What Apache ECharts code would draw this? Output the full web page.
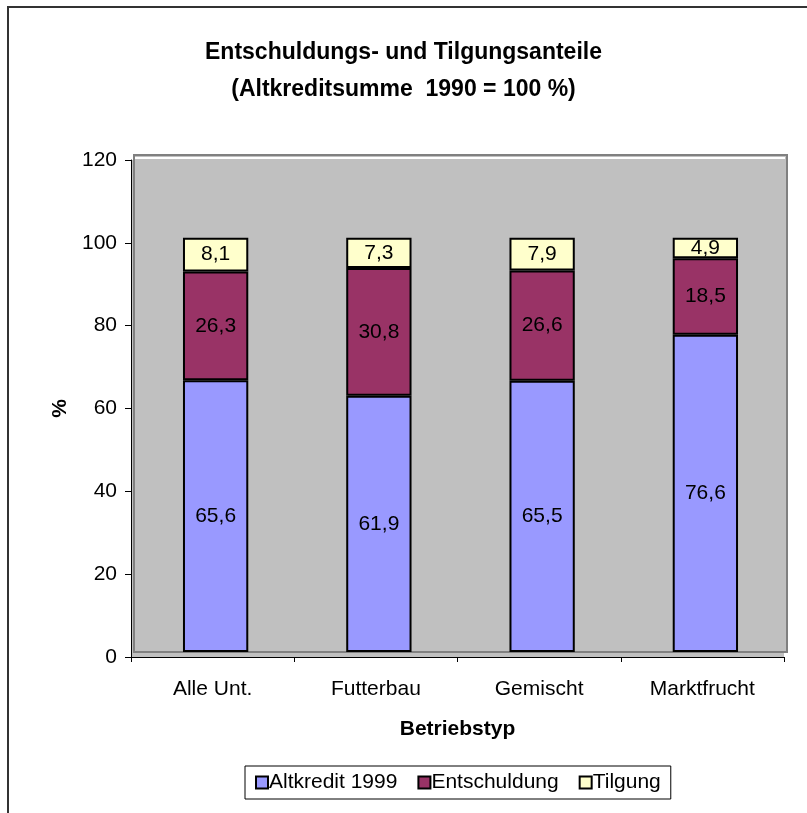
<!DOCTYPE html>
<html>
<head>
<meta charset="utf-8">
<script src="https://cdn.jsdelivr.net/npm/echarts@6/dist/echarts.min.js"></script>
<style>
html,body{margin:0;padding:0;background:#fff;}
#chart{width:807px;height:813px;}
</style>
</head>
<body>
<div id="chart"></div>
<script>
var categories = ['Alle Unt.', 'Futterbau', 'Gemischt', 'Marktfrucht'];
var altkredit = [65.6, 61.9, 65.5, 76.6];
var entschuldung = [26.3, 30.8, 26.6, 18.5];
var tilgung = [8.1, 7.3, 7.9, 4.9];
var seriesNames = ['Altkredit 1999', 'Entschuldung', 'Tilgung'];
var colors = ['#9999FF', '#993366', '#FFFFCC'];

var FONT = 'Liberation Sans, Arial, sans-serif';
var FS = 21;
var chart = echarts.init(document.getElementById('chart'), null, {renderer: 'canvas'});

function fmt(p) { return String(p.value).replace('.', ','); }

function barSeries(name, data, color) {
  return {
    name: name, type: 'bar', stack: 'total', data: data,
    xAxisIndex: 1, yAxisIndex: 1,
    barWidth: '40%',
    itemStyle: {color: color, borderColor: '#000', borderWidth: 2},
    label: {show: true, position: 'inside', formatter: fmt, color: '#000',
            fontFamily: FONT, fontSize: FS},
    emphasis: {disabled: true}
  };
}

var option = {
  animation: false,
  backgroundColor: '#fff',
  title: {
    text: 'Entschuldungs- und Tilgungsanteile\n(Altkreditsumme  1990 = 100 %)',
    left: 'center', top: 29,
    textStyle: {fontFamily: FONT, fontSize: 23, fontWeight: 'bold', color: '#000', lineHeight: 37}
  },
  legend: {
    data: seriesNames.map(function (n) { return {name: n, icon: 'rect'}; }),
    bottom: 14, left: 245,
    itemWidth: 12, itemHeight: 12, itemGap: 20,
    padding: [6, 10, 6, 10],
    borderColor: '#000', borderWidth: 1,
    textStyle: {fontFamily: FONT, fontSize: FS, color: '#000', padding: [0, 0, 0, -4]}
  },
  color: colors,
  grid: [
    {left: 131, right: 23, top: 160, bottom: 156, show: true, backgroundColor: '#C0C0C0', borderWidth: 0},
    {left: 134, right: 20, top: 155, bottom: 161, show: true, backgroundColor: '#C0C0C0', borderColor: '#808080', borderWidth: 2}
  ],
  xAxis: [
    {gridIndex: 0, type: 'category', data: categories,
     name: 'Betriebstyp', nameLocation: 'middle', nameGap: 62,
     nameTextStyle: {fontFamily: FONT, fontSize: FS, fontWeight: 'bold', color: '#000'},
     axisLine: {lineStyle: {color: '#000', width: 1}},
     axisTick: {show: true, length: 5, lineStyle: {color: '#000'}},
     axisLabel: {fontFamily: FONT, fontSize: FS, color: '#000', margin: 22}},
    {gridIndex: 1, type: 'category', data: categories, show: false}
  ],
  yAxis: [
    {gridIndex: 0, type: 'value', min: 0, max: 120, interval: 20,
     name: '%', nameLocation: 'middle', nameGap: 59, nameRotate: 90,
     nameTextStyle: {fontFamily: FONT, fontSize: FS, fontWeight: 'bold', color: '#000'},
     axisLine: {show: true, lineStyle: {color: '#000', width: 1}},
     axisTick: {show: true, length: 6, lineStyle: {color: '#000'}},
     axisLabel: {fontFamily: FONT, fontSize: FS, color: '#000', margin: 14},
     splitLine: {show: false}},
    {gridIndex: 1, type: 'value', min: 0, max: 120, interval: 20, show: false, splitLine: {show: false}}
  ],
  series: [
    barSeries(seriesNames[0], altkredit, colors[0]),
    barSeries(seriesNames[1], entschuldung, colors[1]),
    barSeries(seriesNames[2], tilgung, colors[2])
  ],
  graphic: [
    {type: 'line', shape: {x1: 7, y1: 7, x2: 807, y2: 7}, style: {stroke: '#333', lineWidth: 2}, z: 100},
    {type: 'line', shape: {x1: 8, y1: 7, x2: 8, y2: 813}, style: {stroke: '#333', lineWidth: 2}, z: 100},
    {type: 'line', shape: {x1: 135, y1: 158, x2: 785, y2: 158}, style: {stroke: '#fff', lineWidth: 2}, z: 1}
  ]
};
chart.setOption(option);
</script>
</body>
</html>
